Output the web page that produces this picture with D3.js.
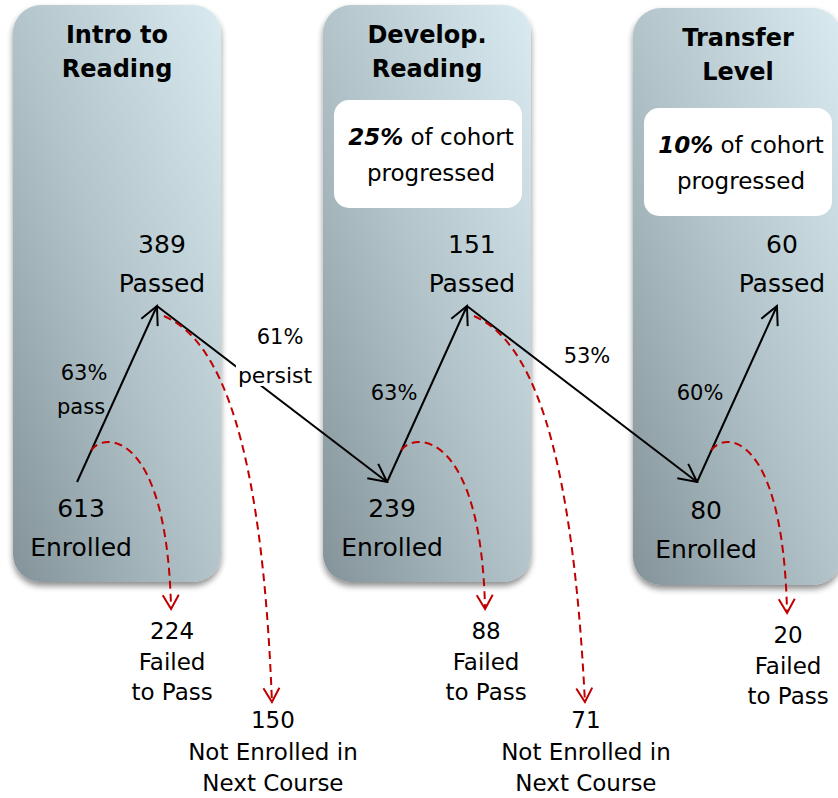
<!DOCTYPE html>
<html>
<head>
<meta charset="utf-8">
<script src="https://cdn.jsdelivr.net/npm/d3@7"></script>
<style>
  body { margin: 0; background: #fff; }
  svg { display: block; font-family: "DejaVu Sans", sans-serif; }
</style>
</head>
<body>
<div id="chart"></div>
<script>
// Cohort flow through the reading sequence
var stages = ['intro', 'develop', 'transfer'];
var stageTitles = [['Intro to', 'Reading'], ['Develop.', 'Reading'], ['Transfer', 'Level']];
var enrolled = [613, 239, 80];
var passed = [389, 151, 60];
var failed = [224, 88, 20];
var notEnrolled = [150, 71];
var passRates = ['63%', '63%', '60%'];
var passNotes = ['pass', '', ''];
var persistRates = ['61%', '53%'];
var persistNotes = ['persist', ''];
var cohortShares = ['', '25%', '10%'];

var width = 838, height = 798;
var boxTop = 5, boxHeight = 577;
var colShift = [0, 0, 3];        // third panel sits a bit lower
var cohortTop = [0, 100, 108];
var enrollLabelDx = [4, 5, 9];
var failDx = [94, 98, 90];
var dropDx = [115, 118];
var red = '#c00000';

var svg = d3.select('#chart').append('svg')
  .attr('width', width)
  .attr('height', height);

var x = d3.scaleBand().domain(stages).range([13, 841]).paddingInner(0.329);
var y = d3.scalePoint().domain(['passed', 'enrolled']).range([306, 482]);

function enrollX(i) { return x(stages[i]) + x.bandwidth() * 0.308; }
function passX(i) { return x(stages[i]) + x.bandwidth() * 0.692; }

// defs: gradient, shadow, arrow heads
var defs = svg.append('defs');
var grad = defs.append('linearGradient').attr('id', 'panelGrad')
  .attr('x1', 0).attr('y1', 1).attr('x2', 1).attr('y2', 0);
grad.append('stop').attr('offset', '0%').attr('stop-color', '#84939a');
grad.append('stop').attr('offset', '50%').attr('stop-color', '#b3c5cb');
grad.append('stop').attr('offset', '100%').attr('stop-color', '#d9ebf1');

var shadow = defs.append('filter').attr('id', 'shadow')
  .attr('x', '-10%').attr('y', '-5%').attr('width', '120%').attr('height', '112%');
shadow.append('feGaussianBlur').attr('in', 'SourceAlpha').attr('stdDeviation', 3).attr('result', 'blur');
shadow.append('feOffset').attr('in', 'blur').attr('dy', 4).attr('result', 'off');
shadow.append('feComponentTransfer').attr('in', 'off').attr('result', 'soft')
  .append('feFuncA').attr('type', 'linear').attr('slope', 0.45);
var merge = shadow.append('feMerge');
merge.append('feMergeNode').attr('in', 'soft');
merge.append('feMergeNode').attr('in', 'SourceGraphic');

defs.append('marker').attr('id', 'headBlack')
  .attr('markerUnits', 'userSpaceOnUse')
  .attr('viewBox', '-22 -12 24 24')
  .attr('markerWidth', 24).attr('markerHeight', 24)
  .attr('refX', 0).attr('refY', 0)
  .attr('orient', 'auto')
  .append('path').attr('d', 'M-18,-9L0,0L-18,9')
  .attr('fill', 'none').attr('stroke', '#000').attr('stroke-width', 2);

defs.append('marker').attr('id', 'headRed')
  .attr('markerUnits', 'userSpaceOnUse')
  .attr('viewBox', '-16 -10 18 20')
  .attr('markerWidth', 18).attr('markerHeight', 20)
  .attr('refX', 0).attr('refY', 0)
  .attr('orient', 'auto')
  .append('path').attr('d', 'M-14,-8L0,0L-14,8')
  .attr('fill', 'none').attr('stroke', red).attr('stroke-width', 2);

// Panels
svg.selectAll('rect.panel').data(stages).enter().append('rect')
  .attr('class', 'panel')
  .attr('x', function(d) { return x(d); })
  .attr('y', function(d, i) { return boxTop + colShift[i]; })
  .attr('width', x.bandwidth())
  .attr('height', boxHeight)
  .attr('rx', 28)
  .attr('fill', 'url(#panelGrad)')
  .attr('filter', 'url(#shadow)');

// Titles
svg.selectAll('text.title').data(stages).enter().append('text')
  .attr('class', 'title')
  .attr('text-anchor', 'middle')
  .attr('font-weight', 'bold')
  .attr('font-size', 24)
  .each(function(d, i) {
    var t = d3.select(this);
    var cx = x(d) + x.bandwidth() / 2 + (i == 2 ? 1 : 0);
    stageTitles[i].forEach(function(line, k) {
      t.append('tspan').attr('x', cx).attr('y', 43 + k * 34 + colShift[i]).text(line);
    });
  });

// Cohort share boxes
var cohort = svg.selectAll('g.cohort')
  .data(stages.filter(function(d, i) { return cohortShares[i]; }))
  .enter().append('g').attr('class', 'cohort');
cohort.append('rect')
  .attr('x', function(d) { return x(d) + 11; })
  .attr('y', function(d) { return cohortTop[stages.indexOf(d)]; })
  .attr('width', 188).attr('height', 108).attr('rx', 15)
  .attr('fill', '#fff');
cohort.append('text')
  .attr('text-anchor', 'middle')
  .attr('font-size', 23)
  .each(function(d) {
    var i = stages.indexOf(d);
    var cx = x(d) + 11 + 94 + 3;
    var t = d3.select(this);
    var l1 = t.append('tspan').attr('x', cx).attr('y', cohortTop[i] + 45);
    l1.append('tspan').attr('font-weight', 'bold').attr('font-style', 'italic').text(cohortShares[i]);
    l1.append('tspan').text(' of cohort');
    t.append('tspan').attr('x', cx).attr('y', cohortTop[i] + 81).text('progressed');
  });

// Pass arrows and persist arrows
svg.selectAll('line.pass').data(stages).enter().append('line')
  .attr('class', 'pass')
  .attr('x1', function(d, i) { return enrollX(i); })
  .attr('y1', y('enrolled'))
  .attr('x2', function(d, i) { return passX(i); })
  .attr('y2', y('passed'))
  .attr('stroke', '#000').attr('stroke-width', 2)
  .attr('marker-end', 'url(#headBlack)');

svg.selectAll('line.persist').data(persistRates).enter().append('line')
  .attr('class', 'persist')
  .attr('x1', function(d, i) { return passX(i); })
  .attr('y1', y('passed'))
  .attr('x2', function(d, i) { return enrollX(i + 1); })
  .attr('y2', y('enrolled'))
  .attr('stroke', '#000').attr('stroke-width', 2)
  .attr('marker-end', 'url(#headBlack)');

// Red dashed drop-out curves
var failTipY = function(i) { return 609 + (i == 2 ? 4 : 0); };
svg.selectAll('path.fail').data(failed).enter().append('path')
  .attr('class', 'fail')
  .attr('d', function(d, i) {
    var ex = enrollX(i), ey = y('enrolled');
    var sx = ex + (passX(i) - ex) * 0.18, sy = ey + (y('passed') - ey) * 0.18;
    var tx = ex + failDx[i], ty = failTipY(i);
    var p = d3.path();
    p.moveTo(sx, sy);
    p.bezierCurveTo(sx + 12, sy - 19, tx - 4, 430, tx, ty);
    return p.toString();
  })
  .attr('fill', 'none').attr('stroke', red).attr('stroke-width', 2)
  .attr('stroke-dasharray', '8,5')
  .attr('marker-end', 'url(#headRed)');

svg.selectAll('path.drop').data(notEnrolled).enter().append('path')
  .attr('class', 'drop')
  .attr('d', function(d, i) {
    var px = passX(i);
    var p = d3.path();
    p.moveTo(px + 7, 316);
    p.bezierCurveTo(px + 63, 340, px + 105, 440, px + dropDx[i], 702);
    return p.toString();
  })
  .attr('fill', 'none').attr('stroke', red).attr('stroke-width', 2)
  .attr('stroke-dasharray', '8,5')
  .attr('marker-end', 'url(#headRed)');

// Node labels
svg.selectAll('text.passed').data(passed).enter().append('text')
  .attr('class', 'passed')
  .attr('text-anchor', 'middle')
  .attr('font-size', 25)
  .each(function(d, i) {
    var t = d3.select(this), cx = passX(i) + 5;
    t.append('tspan').attr('x', cx).attr('y', 253).text(d);
    t.append('tspan').attr('x', cx).attr('y', 292).text('Passed');
  });

svg.selectAll('text.enrolled').data(enrolled).enter().append('text')
  .attr('class', 'enrolled')
  .attr('text-anchor', 'middle')
  .attr('font-size', 25)
  .each(function(d, i) {
    var t = d3.select(this), cx = enrollX(i) + enrollLabelDx[i];
    t.append('tspan').attr('x', cx).attr('y', 517 + colShift[i] * 0.5).text(d);
    t.append('tspan').attr('x', cx).attr('y', 556 + colShift[i] * 0.7).text('Enrolled');
  });

// Rate labels
svg.selectAll('text.rate').data(passRates).enter().append('text')
  .attr('class', 'rate')
  .attr('text-anchor', 'middle')
  .attr('font-size', 21)
  .each(function(d, i) {
    var t = d3.select(this), cx = enrollX(i) + (i == 2 ? 3 : 7);
    if (passNotes[i]) {
      t.append('tspan').attr('x', cx).attr('y', 380).text(d);
      t.append('tspan').attr('x', cx - 3).attr('y', 414).text(passNotes[i]);
    } else {
      t.append('tspan').attr('x', cx).attr('y', 400).text(d);
    }
  });

var persistG = svg.selectAll('g.persistLabel').data(persistRates).enter().append('g')
  .attr('class', 'persistLabel');
persistG.each(function(d, i) {
  var g = d3.select(this);
  var mx = (passX(i) + enrollX(i + 1)) / 2;
  var my = (y('passed') + y('enrolled')) / 2;
  if (persistNotes[i]) {
    g.append('text').attr('text-anchor', 'middle').attr('font-size', 21)
      .attr('x', mx + 8).attr('y', my - 50).text(d);
    var note = g.append('text').attr('text-anchor', 'middle').attr('font-size', 22)
      .attr('x', mx + 3).attr('y', my - 11).text(persistNotes[i]);
    var bb = note.node().getBBox();
    g.insert('rect', 'text:last-child')
      .attr('x', bb.x - 2).attr('y', bb.y + 2)
      .attr('width', bb.width + 4).attr('height', bb.height - 4)
      .attr('fill', '#fff');
  } else {
    g.append('text').attr('text-anchor', 'middle').attr('font-size', 21)
      .attr('x', mx + 5).attr('y', my - 31).text(d);
  }
});

// Outcome labels under the panels
svg.selectAll('text.failLabel').data(failed).enter().append('text')
  .attr('class', 'failLabel')
  .attr('text-anchor', 'middle')
  .attr('font-size', 23)
  .each(function(d, i) {
    var t = d3.select(this), cx = enrollX(i) + failDx[i] + 1, ty = failTipY(i);
    [d, 'Failed', 'to Pass'].forEach(function(line, k) {
      t.append('tspan').attr('x', cx).attr('y', ty + 30 + k * 30.5).text(line);
    });
  });

svg.selectAll('text.dropLabel').data(notEnrolled).enter().append('text')
  .attr('class', 'dropLabel')
  .attr('text-anchor', 'middle')
  .attr('font-size', 23)
  .each(function(d, i) {
    var t = d3.select(this), cx = passX(i) + dropDx[i] + 1;
    [d, 'Not Enrolled in', 'Next Course'].forEach(function(line, k) {
      t.append('tspan').attr('x', cx).attr('y', 728 + k * 31.5).text(line);
    });
  });
</script>
</body>
</html>
